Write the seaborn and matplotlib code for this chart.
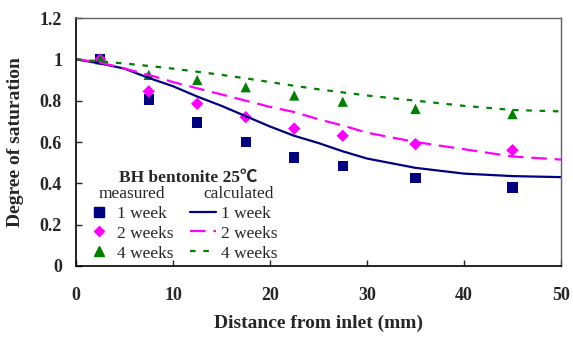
import matplotlib
matplotlib.use("Agg")
from matplotlib import pyplot as plt
from matplotlib.lines import Line2D
import numpy as np
import seaborn as sns

# measured points
meas_x = [2.5, 7.5, 12.5, 17.5, 22.5, 27.5, 35, 45]
meas_1w = [1.0, 0.805, 0.695, 0.60, 0.525, 0.485, 0.425, 0.38]
meas_2w = [1.0, 0.845, 0.785, 0.72, 0.665, 0.63, 0.59, 0.56]
meas_4w = [1.0, 0.925, 0.90, 0.865, 0.825, 0.795, 0.76, 0.735]

# calculated curves
calc_x = [0, 2.5, 5, 7.5, 10, 12.5, 15, 17.5, 20, 22.5, 25, 27.5, 30, 35, 40, 45, 50]
calc_1w = [1.0, 0.98, 0.955, 0.91, 0.87, 0.82, 0.775, 0.725, 0.675, 0.63,
           0.595, 0.555, 0.52, 0.475, 0.447, 0.435, 0.43]
calc_2w = [1.0, 0.985, 0.955, 0.925, 0.89, 0.86, 0.83, 0.80, 0.77, 0.745,
           0.71, 0.68, 0.645, 0.60, 0.565, 0.53, 0.515]
calc_4w = [1.0, 0.99, 0.98, 0.968, 0.955, 0.94, 0.925, 0.908, 0.89, 0.872,
           0.855, 0.84, 0.825, 0.80, 0.775, 0.755, 0.748]

labels = ["1 week", "2 weeks", "4 weeks"]
colors = ["#000080", "#ff00ff", "#008000"]
markers = ["s", "D", "^"]

sns.set_style("ticks")
plt.rcParams["font.family"] = ["Liberation Serif", "DejaVu Serif"]

fig = plt.figure(figsize=(5.73, 3.43), dpi=100)
ax = fig.add_axes([0.1326, 0.2245, 0.8464, 0.723])

for ys, c, m, s in zip([meas_1w, meas_2w, meas_4w], colors, markers, [55, 40, 55]):
    sns.scatterplot(x=meas_x, y=ys, color=c, marker=m, s=s, edgecolor="none", ax=ax)

styles = ["-", (0, (7, 3.5)), (0, (2.5, 3.5))]
for ys, c, ls in zip([calc_1w, calc_2w, calc_4w], colors, styles):
    sns.lineplot(x=calc_x, y=ys, color=c, linestyle=ls, linewidth=1.6, ax=ax)

ax.set_xlim(0, 50)
ax.set_ylim(0, 1.2)
ax.set_xticks([0, 10, 20, 30, 40, 50])
ax.set_yticks([0, 0.2, 0.4, 0.6, 0.8, 1.0, 1.2])
ax.set_yticklabels(["0", "0.2", "0.4", "0.6", "0.8", "1", "1.2"])
ax.tick_params(direction="in", length=4, width=1, labelsize=13)
ax.tick_params(axis="x", pad=15)
ax.tick_params(axis="y", pad=10)
for lab in ax.get_xticklabels() + ax.get_yticklabels():
    lab.set_fontweight("bold")
for side in ["left", "bottom"]:
    ax.spines[side].set_color("black")
    ax.spines[side].set_linewidth(1.2)
for side in ["top", "right"]:
    ax.spines[side].set_color("#606060")
    ax.spines[side].set_linewidth(1.0)
ax.tick_params(top=False, right=False)

ax.set_xlabel("Distance from inlet (mm)", fontsize=14, fontweight="bold", labelpad=8)
ax.set_ylabel("Degree of saturation", fontsize=14, fontweight="bold", labelpad=11)

blank = Line2D([], [], linestyle="none")
h_meas = [Line2D([], [], linestyle="none", marker=m, color=c, markersize=ms)
          for m, c, ms in zip(markers, colors, [6.5, 5.5, 6.5])]
h_calc = [Line2D([], [], color=c, linestyle=ls, linewidth=1.6)
          for c, ls in zip(colors, styles)]
handles = [blank] + h_meas + [blank] + h_calc
leg_labels = ["measured"] + labels + ["calculated"] + labels
leg = ax.legend(handles, leg_labels, ncol=2, loc="lower left",
                bbox_to_anchor=(0.006, -0.01), frameon=False, fontsize=12.5,
                title="BH bentonite 25\u2103", handlelength=1.5,
                handletextpad=0.3, columnspacing=0.35, labelspacing=0.22,
                borderaxespad=0.0)
leg.get_title().set_fontweight("bold")
leg.get_title().set_fontsize(12.5)
leg.get_title().set_family(["Liberation Serif", "Noto Sans CJK SC"])
leg.get_title().set_position((0, -4))
leg.get_texts()[0].set_position((-18, 0))
leg.get_texts()[4].set_position((-18, 0))

fig.savefig("out.png", dpi=100)
